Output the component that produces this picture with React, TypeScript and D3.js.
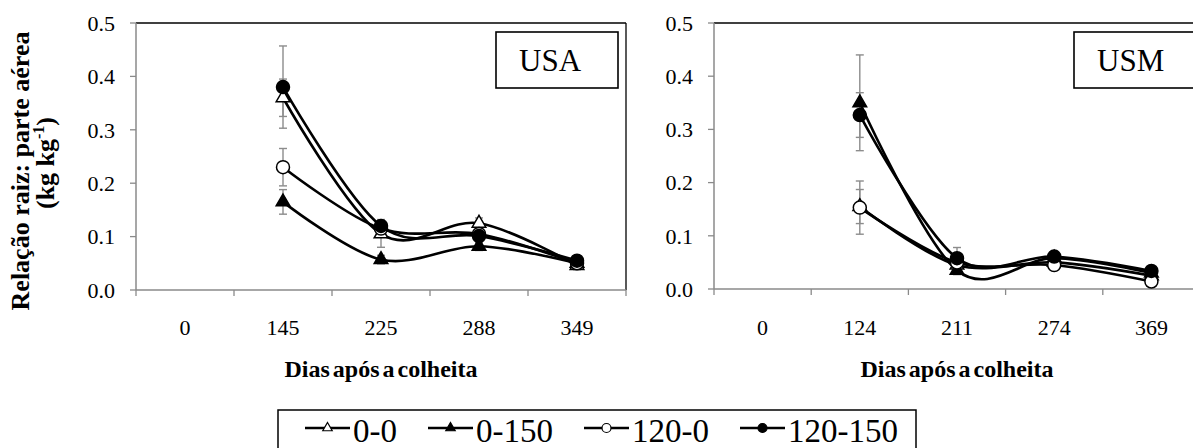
import React, { useEffect, useRef } from "react";
import * as d3 from "d3";

// ---------- data ----------
const yTicks = [0, 0.1, 0.2, 0.3, 0.4, 0.5];
const seriesNames = ["0-0", "0-150", "120-0", "120-150"];
const markerShapes = ["triangle", "triangle", "circle", "circle"];
const markerFilled = [false, true, false, true];

// USA panel
const usaCategories = ["0", "145", "225", "288", "349"];
const usaDataDays = ["145", "225", "288", "349"];
const usa_0_0 = [0.36, 0.105, 0.125, 0.046];
const usa_0_150 = [0.165, 0.057, 0.082, 0.05];
const usa_120_0 = [0.23, 0.115, 0.105, 0.05];
const usa_120_150 = [0.38, 0.12, 0.101, 0.055];
const usaErr_0_0 = [0.035, 0.025, 0.01, 0.008];
const usaErr_0_150 = [0.023, 0.008, 0.008, 0.006];
const usaErr_120_0 = [0.035, 0.01, 0.01, 0.008];
const usaErr_120_150 = [0.077, 0.012, 0.012, 0.008];

// USM panel
const usmCategories = ["0", "124", "211", "274", "369"];
const usmDataDays = ["124", "211", "274", "369"];
const usm_0_0 = [0.155, 0.045, 0.05, 0.025];
const usm_0_150 = [0.35, 0.035, 0.058, 0.03];
const usm_120_0 = [0.153, 0.05, 0.045, 0.014];
const usm_120_150 = [0.327, 0.058, 0.061, 0.034];
const usmErr_0_0 = [0.032, 0.008, 0.008, 0.006];
const usmErr_0_150 = [0.09, 0.008, 0.008, 0.006];
const usmErr_120_0 = [0.05, 0.008, 0.008, 0.006];
const usmErr_120_150 = [0.042, 0.02, 0.01, 0.006];

const xTitle = "Dias após a colheita";
const yTitle1 = "Relação raiz: parte aérea";

const W = 1193;
const H = 448;
const FONT = "'Liberation Serif','Times New Roman',Times,serif";
const AXIS_GRAY = "#8a8a8a";

export default function App() {
  const ref = useRef<SVGSVGElement | null>(null);

  useEffect(() => {
    document.body.style.margin = "0";
    const svg = d3.select(ref.current);
    svg.selectAll("*").remove();

    const panels = [
      {
        left: 136, right: 626, top: 23, bottom: 290,
        cats: usaCategories, days: usaDataDays,
        values: [usa_0_0, usa_0_150, usa_120_0, usa_120_150],
        errors: [usaErr_0_0, usaErr_0_150, usaErr_120_0, usaErr_120_150],
        label: "USA", boxX: 496,
      },
      {
        left: 714, right: 1200, top: 23, bottom: 289,
        cats: usmCategories, days: usmDataDays,
        values: [usm_0_0, usm_0_150, usm_120_0, usm_120_150],
        errors: [usmErr_0_0, usmErr_0_150, usmErr_120_0, usmErr_120_150],
        label: "USM", boxX: 1074,
      },
    ];

    const drawMarker = (g: any, shape: string, filled: boolean, cx: number, cy: number, r: number, sw: number) => {
      if (shape === "circle") {
        g.append("circle").attr("cx", cx).attr("cy", cy).attr("r", r)
          .attr("fill", filled ? "#000" : "#fff").attr("stroke", "#000").attr("stroke-width", sw);
      } else {
        const side = r * 2.1;
        const area = (side * side * Math.sqrt(3)) / 4;
        g.append("path")
          .attr("d", d3.symbol().type(d3.symbolTriangle).size(area)())
          .attr("transform", `translate(${cx},${cy})`)
          .attr("fill", filled ? "#000" : "#fff").attr("stroke", "#000").attr("stroke-width", sw);
      }
    };

    panels.forEach((p) => {
      const g = svg.append("g");
      const x = d3.scalePoint<string>().domain(p.cats).range([p.left, p.right]).padding(0.5);
      const y = d3.scaleLinear().domain([0, 0.5]).range([p.bottom, p.top]);
      const step = x.step();

      g.append("line").attr("x1", p.left).attr("x2", p.right).attr("y1", p.top).attr("y2", p.top)
        .attr("stroke", "#000").attr("stroke-width", 1.3);
      g.append("line").attr("x1", p.right).attr("x2", p.right).attr("y1", p.top).attr("y2", p.bottom)
        .attr("stroke", "#000").attr("stroke-width", 1.3);

      g.append("line").attr("x1", p.left).attr("x2", p.left).attr("y1", p.top).attr("y2", p.bottom)
        .attr("stroke", AXIS_GRAY).attr("stroke-width", 1.5);
      yTicks.forEach((t) => {
        g.append("line").attr("x1", p.left - 6).attr("x2", p.left).attr("y1", y(t)).attr("y2", y(t))
          .attr("stroke", AXIS_GRAY).attr("stroke-width", 1.3);
        g.append("text").attr("x", p.left - 21).attr("y", y(t)).attr("dy", "0.35em")
          .attr("text-anchor", "end").attr("font-family", FONT).attr("font-size", 22)
          .text(d3.format(".1f")(t));
      });

      g.append("line").attr("x1", p.left).attr("x2", p.right).attr("y1", p.bottom).attr("y2", p.bottom)
        .attr("stroke", AXIS_GRAY).attr("stroke-width", 1.5);
      const bounds = p.cats.map((c) => (x(c) as number) - step / 2).concat([(x(p.cats[p.cats.length - 1]) as number) + step / 2]);
      bounds.forEach((b) => {
        g.append("line").attr("x1", b).attr("x2", b).attr("y1", p.bottom).attr("y2", p.bottom + 6)
          .attr("stroke", AXIS_GRAY).attr("stroke-width", 1.3);
      });
      p.cats.forEach((c) => {
        g.append("text").attr("x", x(c) as number).attr("y", 335).attr("text-anchor", "middle")
          .attr("font-family", FONT).attr("font-size", 22).text(c);
      });
      g.append("text").attr("x", (p.left + p.right) / 2).attr("y", 377).attr("text-anchor", "middle")
        .attr("font-family", FONT).attr("font-size", 24).attr("font-weight", "bold")
        .attr("word-spacing", -3).text(xTitle);

      g.append("rect").attr("x", p.boxX).attr("y", 32).attr("width", 122).attr("height", 56)
        .attr("fill", "#fff").attr("stroke", "#000").attr("stroke-width", 1.6);
      g.append("text").attr("x", p.boxX + 23).attr("y", 71).attr("font-family", FONT)
        .attr("font-size", 31).text(p.label);

      p.values.forEach((vals, si) => {
        vals.forEach((v, j) => {
          const e = p.errors[si][j];
          const cx = x(p.days[j]) as number;
          const eg = g.append("g").attr("stroke", "#8c8c8c").attr("stroke-width", 1.4);
          eg.append("line").attr("x1", cx).attr("x2", cx).attr("y1", y(v - e)).attr("y2", y(v + e));
          eg.append("line").attr("x1", cx - 4).attr("x2", cx + 4).attr("y1", y(v - e)).attr("y2", y(v - e));
          eg.append("line").attr("x1", cx - 4).attr("x2", cx + 4).attr("y1", y(v + e)).attr("y2", y(v + e));
        });
      });

      const line = d3.line<number>()
        .x((_, j) => x(p.days[j]) as number)
        .y((v) => y(v))
        .curve(d3.curveCatmullRom.alpha(0));
      p.values.forEach((vals, si) => {
        g.append("path").attr("d", line(vals) as string).attr("fill", "none")
          .attr("stroke", "#000").attr("stroke-width", 2.6);
        vals.forEach((v, j) => {
          drawMarker(g, markerShapes[si], markerFilled[si], x(p.days[j]) as number, y(v), 6.5, 1.5);
        });
      });
    });

    svg.append("text").attr("transform", "translate(29,171) rotate(-90)").attr("text-anchor", "middle")
      .attr("font-family", FONT).attr("font-size", 26).attr("font-weight", "bold").text(yTitle1);
    const t2 = svg.append("text").attr("transform", "translate(54,163) rotate(-90)").attr("text-anchor", "middle")
      .attr("font-family", FONT).attr("font-size", 26).attr("font-weight", "bold");
    t2.append("tspan").text("(kg kg");
    t2.append("tspan").attr("font-size", 16).attr("dy", -10).text("-1");
    t2.append("tspan").attr("dy", 10).text(")");

    const lg = svg.append("g");
    const box = lg.append("rect").attr("x", 278).attr("y", 410).attr("height", 60)
      .attr("fill", "#fff").attr("stroke", "#000").attr("stroke-width", 1.5);
    let cx = 305;
    const ly = 428;
    seriesNames.forEach((name, si) => {
      lg.append("line").attr("x1", cx).attr("x2", cx + 45).attr("y1", ly).attr("y2", ly)
        .attr("stroke", "#000").attr("stroke-width", 2.5);
      drawMarker(lg, markerShapes[si], markerFilled[si], cx + 22.5, ly, 4.5, 1.2);
      const t = lg.append("text").attr("x", cx + 48).attr("y", 442).attr("font-family", FONT)
        .attr("font-size", 33).text(name);
      const w = (t.node() as SVGTextElement).getComputedTextLength();
      cx = cx + 48 + w + 31;
    });
    box.attr("width", cx - 31 + 18 - 278);
  }, []);

  return (
    <svg ref={ref} width={W} height={H} style={{ position: "absolute", left: 0, top: 0, background: "#fff" }} />
  );
}
